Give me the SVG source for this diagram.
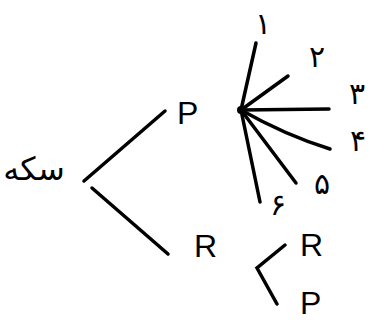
<svg xmlns="http://www.w3.org/2000/svg" width="371" height="322" viewBox="0 0 371 322">
<style>
.ln{stroke:#000;stroke-width:3.5;stroke-linecap:round;fill:none}
.lt{font-family:"Liberation Sans",sans-serif;font-size:32px;fill:#000}
.fa{font-family:"DejaVu Sans",sans-serif;font-size:30px;fill:#000}
</style>
<rect width="371" height="322" fill="#fff"/>
<g id="root"><text class="fa" x="34" y="180" text-anchor="middle" direction="rtl" style="font-size:32px">سکه</text></g>
<g id="P1"><text class="lt" x="177" y="124">P</text></g>
<g id="R1"><text class="lt" x="194" y="257">R</text></g>
<g id="hub"><circle cx="241" cy="110" r="4" fill="#000"/></g>
<g id="n1"><text class="fa" x="263" y="34" text-anchor="middle">۱</text></g>
<g id="n2"><text class="fa" x="317" y="67" text-anchor="middle">۲</text></g>
<g id="n3"><text class="fa" x="357" y="104" text-anchor="middle">۳</text></g>
<g id="n4"><text class="fa" x="358" y="151" text-anchor="middle">۴</text></g>
<g id="n5"><text class="fa" x="322" y="194" text-anchor="middle">۵</text></g>
<g id="n6"><text class="fa" x="278" y="215" text-anchor="middle">۶</text></g>
<g id="R2"><text class="lt" x="300" y="256">R</text></g>
<g id="P2"><text class="lt" x="300" y="314">P</text></g>
<g id="connectors">
<path class="ln" d="M84 181 L165 111"/>
<path class="ln" d="M92 188 L168 254"/>
<path class="ln" d="M241 110 L256 43"/>
<path class="ln" d="M241 110 L288 76"/>
<path class="ln" d="M241 110 L329 109"/>
<path class="ln" d="M241 110 Q285 135 330 149"/>
<path class="ln" d="M241 110 L296 183"/>
<path class="ln" d="M241 110 L260 202"/>
<path class="ln" d="M285 245 L257 268 L277 304"/>
</g>
</svg>
